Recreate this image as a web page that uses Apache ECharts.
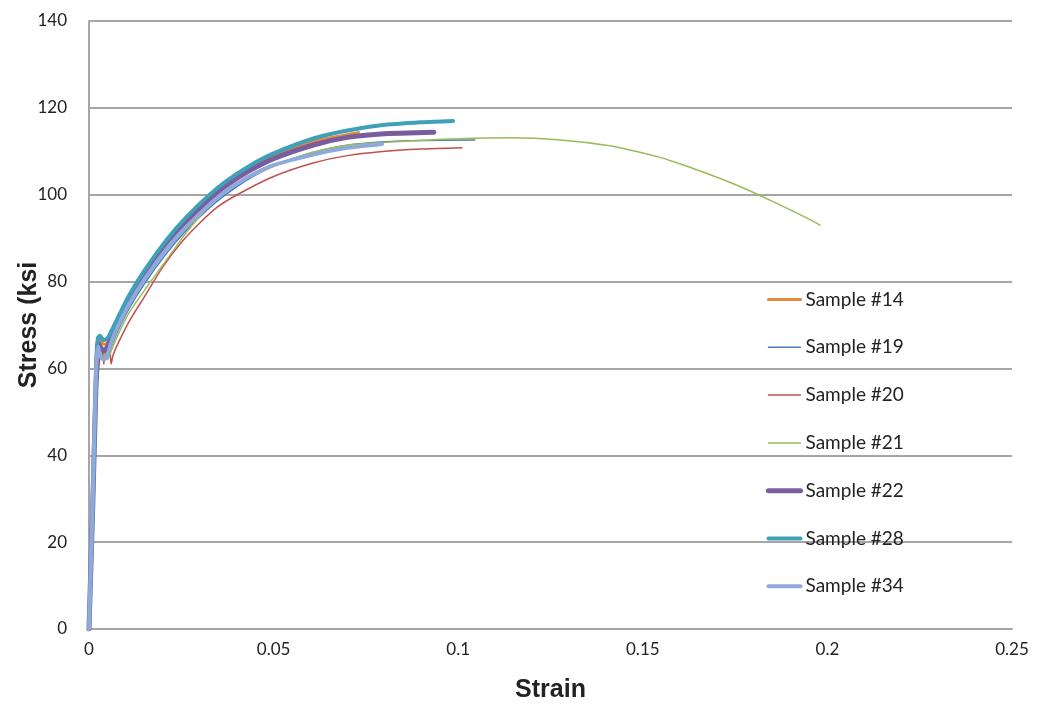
<!DOCTYPE html>
<html><head><meta charset="utf-8">
<script src="https://cdn.jsdelivr.net/npm/echarts@6/dist/echarts.min.js"></script>
<style>html,body{margin:0;padding:0;background:#fff}#c{width:1042px;height:709px}</style>
</head><body><div id="c"></div>
<script>
const seriesNames = ['Sample #14','Sample #19','Sample #20','Sample #21','Sample #22','Sample #28','Sample #34'];
const xTicks = [0,0.05,0.1,0.15,0.2,0.25];
const yTicks = [0,20,40,60,80,100,120,140];

const s14 = [[0,0],[0.0005,14],[0.001,28],[0.0015,45],[0.002,60],[0.0024,66],[0.003,66.5],[0.004,65.5],[0.005,66],[0.006,68],[0.008,71.5],[0.011,76.5],[0.015,82],[0.021,89],[0.026,94],[0.032,99],[0.037,102.5],[0.043,105.8],[0.05,108.8],[0.061,112.3],[0.073,114.3]];
const s19 = [[0,0],[0.0005,14],[0.001,28],[0.0015,43],[0.002,57],[0.0027,65],[0.0035,64],[0.0045,63],[0.0055,64],[0.0065,66],[0.008,69],[0.011,74],[0.015,79.5],[0.021,86.5],[0.026,91.5],[0.032,96.5],[0.037,100],[0.043,103.5],[0.05,106.6],[0.06,109.6],[0.07,111.4],[0.08,112.2],[0.09,112.5],[0.1045,112.6]];
const s20 = [[0,0],[0.0005,13],[0.001,26],[0.0015,40],[0.002,53],[0.003,63],[0.0035,65],[0.004,61],[0.0045,64],[0.0055,65],[0.006,61],[0.0065,63],[0.008,66],[0.011,71],[0.015,76.5],[0.02,83.4],[0.025,89],[0.03,93.5],[0.035,97.3],[0.041,100.4],[0.05,104.2],[0.0607,107.3],[0.07,109],[0.0788,109.9],[0.09,110.5],[0.101,110.8]];
const s21 = [[0,0],[0.0005,14],[0.001,27],[0.0015,42],[0.002,55],[0.0028,64],[0.004,62],[0.0045,65],[0.005,62],[0.006,64],[0.008,68],[0.011,73],[0.0157,78.8],[0.021,85],[0.027,92],[0.0336,98.3],[0.04,102.5],[0.0517,107.2],[0.06,109.6],[0.0698,111.4],[0.0878,112.4],[0.1005,112.9],[0.114,113.1],[0.1276,112.6],[0.141,111.3],[0.1492,109.8],[0.1547,108.6],[0.158,107.7],[0.1674,104.9],[0.1763,101.9],[0.1853,98.4],[0.1945,94.6],[0.198,93]];
const s22 = [[0,0],[0.0005,14],[0.001,28],[0.0015,44],[0.002,59],[0.0025,66],[0.003,65],[0.004,64],[0.005,65],[0.006,67],[0.008,71],[0.011,76],[0.015,81.5],[0.021,88.5],[0.026,93.5],[0.032,98.5],[0.037,102],[0.043,105.3],[0.05,108.3],[0.061,111.5],[0.07,113.2],[0.079,114],[0.0934,114.4]];
const s28 = [[0,0],[0.0005,14],[0.001,28],[0.0015,45],[0.002,60],[0.0024,67],[0.003,67.5],[0.004,66.5],[0.005,67],[0.006,68.5],[0.008,72],[0.011,77],[0.015,82.5],[0.021,89.6],[0.026,94.5],[0.032,99.5],[0.037,103],[0.043,106.4],[0.05,109.5],[0.061,113],[0.07,114.8],[0.079,116],[0.09,116.7],[0.0986,117]];
const s34 = [[0,0],[0.0005,15],[0.001,30],[0.0015,47],[0.002,61],[0.0025,65],[0.003,63],[0.004,62],[0.005,63],[0.006,66],[0.008,70],[0.011,75],[0.015,80.5],[0.021,87.5],[0.026,92.3],[0.032,97.2],[0.037,100.8],[0.043,104],[0.05,106.8],[0.061,109.3],[0.07,110.8],[0.0794,111.7]];

const dataSets = [s14,s19,s20,s21,s22,s28,s34];
const colors = ['#E8883A','#4A7DB8','#C0504D','#9BBB59','#7A5D9C','#3FA1B8','#8FAADA'];
const widths = [3,1.5,1.5,1.5,5,4,4];

const chart = echarts.init(document.getElementById('c'), null, {renderer:'canvas'});
const gridColor = '#A6A6A6';
chart.setOption({
  animation:false,
  backgroundColor:'#fff',
  grid:{left:89,right:30,top:21,bottom:80,containLabel:false,outerBoundsMode:'none'},
  legend:{
    orient:'vertical', left:766, top:289, padding:0, itemWidth:32, itemHeight:12, itemGap:26.8,
    itemStyle:{opacity:0},
    textStyle:{fontFamily:'Lato, "Open Sans", sans-serif', fontSize:19, color:'#222', lineHeight:21},
    data: seriesNames.map((n,i)=>({name:n, lineStyle:{width:widths[i], color:colors[i], cap:'round'}}))
  },
  xAxis:{
    type:'value', min:xTicks[0], max:xTicks[xTicks.length-1], interval:0.05,
    name:'Strain', nameLocation:'middle', nameGap:49,
    nameTextStyle:{fontFamily:'"Liberation Sans", Arial, sans-serif', fontWeight:'bold', fontSize:25, color:'#222'},
    axisLine:{show:true, lineStyle:{color:gridColor, width:2}},
    axisTick:{show:false},
    splitLine:{show:false},
    axisLabel:{fontFamily:'Lato, "Open Sans", sans-serif', fontSize:17, color:'#222', margin:12,
      formatter:v=>String(+v.toFixed(2))}
  },
  yAxis:{
    type:'value', min:yTicks[0], max:yTicks[yTicks.length-1], interval:20,
    name:'Stress (ksi', nameLocation:'middle', nameGap:47, nameRotate:90, nameMoveOverlap:false,
    nameTextStyle:{fontFamily:'"Liberation Sans", Arial, sans-serif', fontWeight:'bold', fontSize:25, color:'#222'},
    axisLine:{show:true, lineStyle:{color:gridColor, width:2}},
    axisTick:{show:false},
    splitLine:{show:true, lineStyle:{color:gridColor, width:2}},
    axisLabel:{fontFamily:'Lato, "Open Sans", sans-serif', fontSize:17, color:'#222', margin:22}
  },
  series: seriesNames.map((n,i)=>({
    name:n, type:'line', data:dataSets[i], showSymbol:false, symbol:'none', smooth:0.25,
    color:colors[i], lineStyle:{color:colors[i], width:widths[i], cap:'round', join:'round'}, z:2+i
  }))
});
</script></body></html>
